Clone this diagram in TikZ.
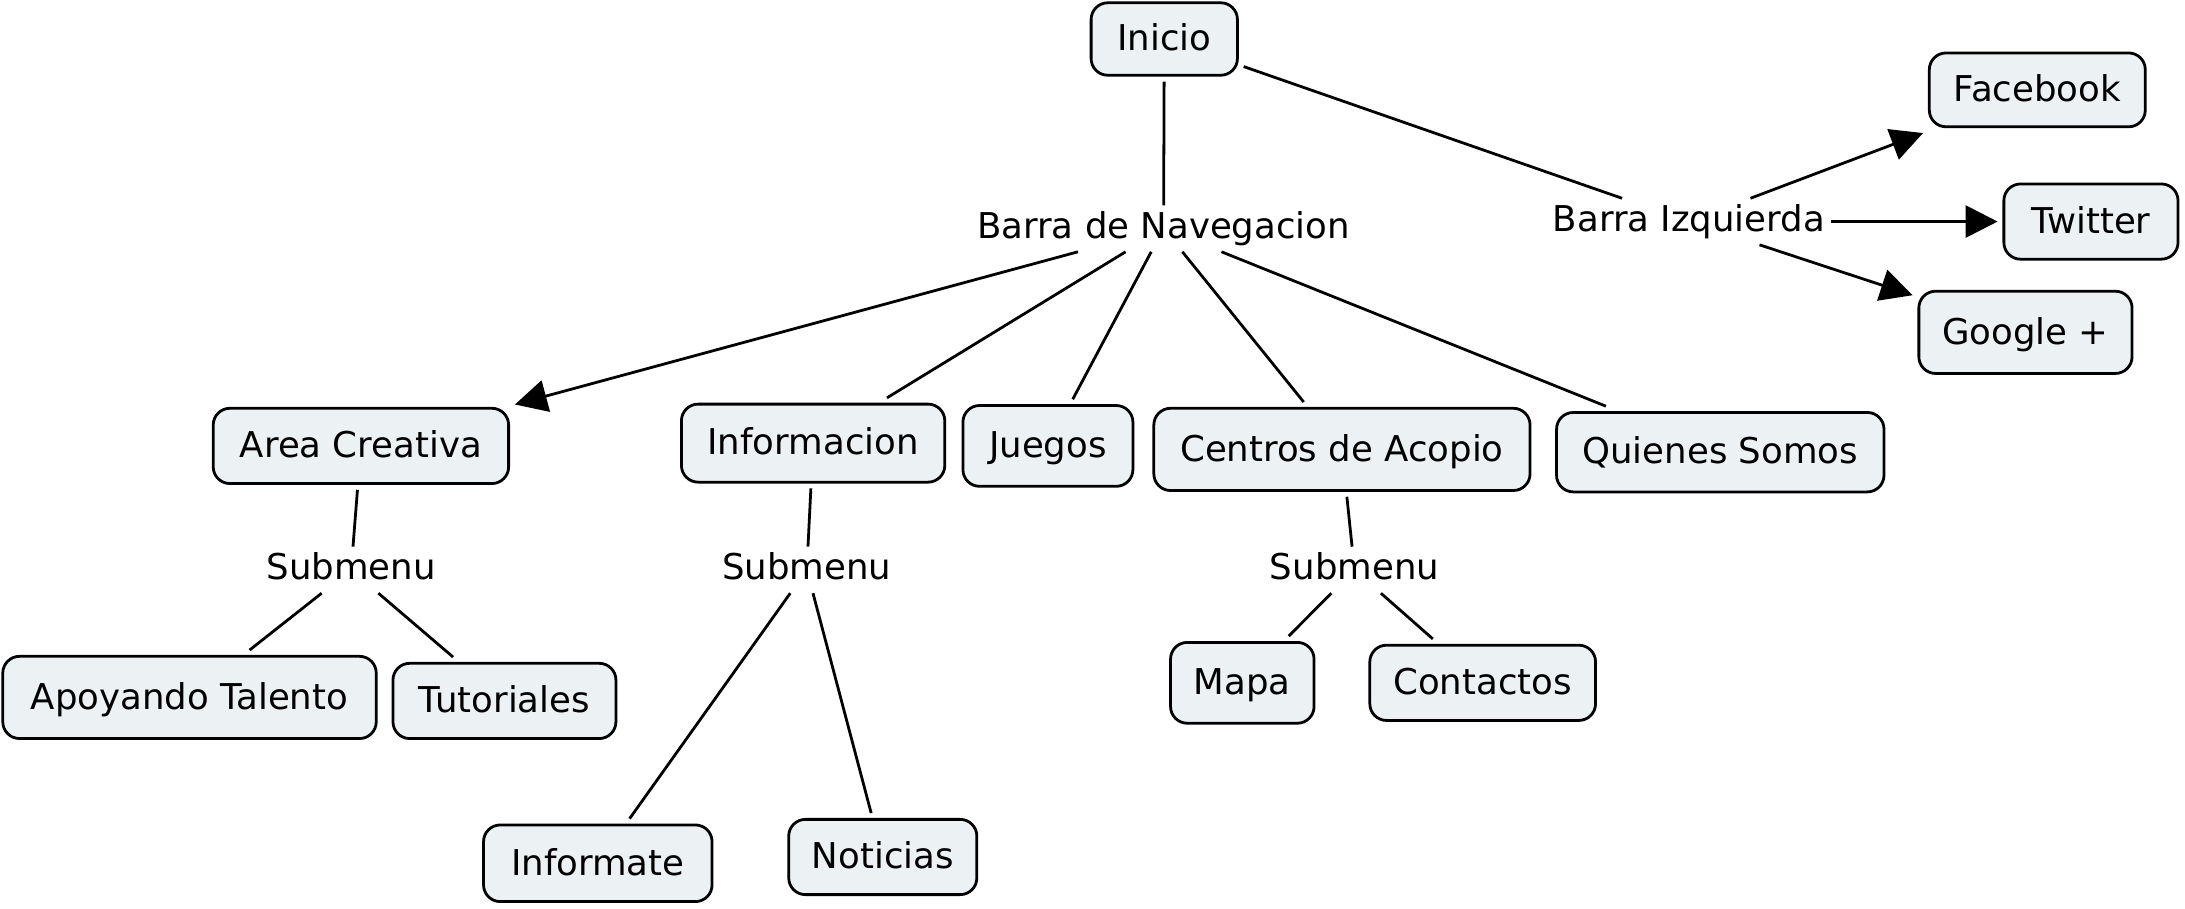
\documentclass[tikz,border=0pt]{standalone}
\usepackage{fontspec}
\setmainfont{DejaVu Sans}
\usetikzlibrary{arrows.meta}
\definecolor{boxfill}{RGB}{236,242,244}
\begin{document}
\begin{tikzpicture}[x=1pt,y=-1pt,
  concept/.style={draw=black, line width=2pt, fill=boxfill, rounded corners=12pt,
    inner sep=0pt, outer sep=4.5pt, font=\fontsize{25.5}{30}\selectfont,
    text height=19.4pt, text depth=2.5pt},
  phrase/.style={inner sep=2pt, outer sep=2.5pt, font=\fontsize{25.5}{30}\selectfont,
    text height=19.4pt, text depth=5pt},
  link/.style={line width=2pt},
  arr/.style={line width=2pt, -{Triangle[length=23pt,width=23pt]}}]
\useasboundingbox (0,0) rectangle (1568,652);
% concepts
\node[concept, minimum width=105pt, minimum height=52pt] (inicio) at (835.5,28) {Inicio};
\node[concept, minimum width=155pt, minimum height=53pt] (fb) at (1462,64.5) {Facebook};
\node[concept, minimum width=125pt, minimum height=54pt] (tw) at (1500.5,159) {Twitter};
\node[concept, minimum width=153pt, minimum height=59pt] (gp) at (1453.5,238.5) {Google +};
\node[concept, minimum width=212pt, minimum height=54pt] (area) at (259,320) {Area Creativa};
\node[concept, minimum width=189pt, minimum height=56pt] (info) at (583.5,318) {Informacion};
\node[concept, minimum width=122pt, minimum height=58pt] (jueg) at (752,320) {Juegos};
\node[concept, minimum width=270pt, minimum height=59pt] (cent) at (963,322.5) {Centros de Acopio};
\node[concept, minimum width=235pt, minimum height=57pt] (quien) at (1234.5,324.5) {Quienes Somos};
\node[concept, minimum width=268pt, minimum height=59pt] (apoy) at (136,500.5) {Apoyando Talento};
\node[concept, minimum width=160pt, minimum height=54pt] (tuto) at (362,503) {Tutoriales};
\node[concept, minimum width=103pt, minimum height=58pt] (mapa) at (891.5,490) {Mapa};
\node[concept, minimum width=162pt, minimum height=54pt] (cont) at (1064,490) {Contactos};
\node[concept, minimum width=164pt, minimum height=55pt] (infm) at (429,619.5) {Informate};
\node[concept, minimum width=135pt, minimum height=54pt] (noti) at (633.5,615) {Noticias};
% linking phrases
\node[phrase] (nav) at (835,164) {Barra de Navegacion};
\node[phrase] (izq) at (1212,159) {Barra Izquierda};
\node[phrase] (sub1) at (252,409) {Submenu};
\node[phrase] (sub2) at (579,409) {Submenu};
\node[phrase] (sub3) at (972,409) {Submenu};
% connectors
\draw[link] (inicio) -- (nav);
\draw[link] (inicio) -- (izq);
\draw[arr] (izq) -- (fb);
\draw[arr] (izq) -- (tw);
\draw[arr] (izq) -- (gp);
\draw[arr] (nav) -- (area);
\draw[link] (nav) -- (info);
\draw[link] (nav) -- (jueg);
\draw[link] (nav) -- (cent);
\draw[link] (nav) -- (quien);
\draw[link] (area) -- (sub1);
\draw[link] (sub1) -- (apoy);
\draw[link] (sub1) -- (tuto);
\draw[link] (info) -- (sub2);
\draw[link] (sub2) -- (infm);
\draw[link] (sub2) -- (noti);
\draw[link] (cent) -- (sub3);
\draw[link] (sub3) -- (mapa);
\draw[link] (sub3) -- (cont);
\end{tikzpicture}
\end{document}
